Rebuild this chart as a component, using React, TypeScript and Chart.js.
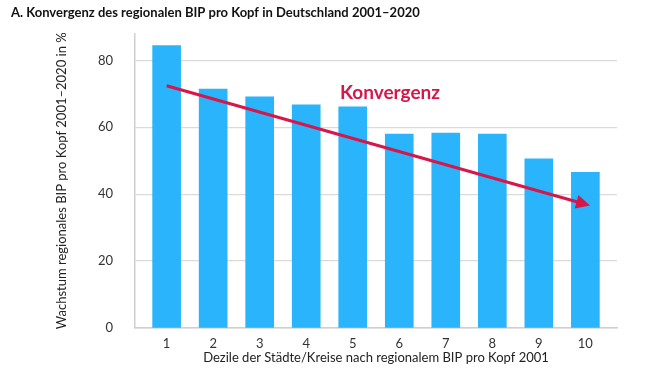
import React, { useEffect, useRef } from "react";
import { Chart, registerables } from "chart.js";

Chart.register(...registerables);

const titleText = "A. Konvergenz des regionalen BIP pro Kopf in Deutschland 2001–2020";
const xTitle = "Dezile der Städte/Kreise nach regionalem BIP pro Kopf 2001";
const yTitle = "Wachstum regionales BIP pro Kopf 2001–2020 in %";
const deciles = [1, 2, 3, 4, 5, 6, 7, 8, 9, 10];
const growth = [84.4, 71.4, 69.1, 66.7, 66.1, 58.0, 58.3, 58.0, 50.6, 46.5];
const yTicks = [0, 20, 40, 60, 80];
const arrowStart = [1, 72.4];
const arrowEnd = [10.1, 36.6];
const arrowLabel = "Konvergenz";
const arrowLabelPos = [5.8, 70.4];

const RED = "#d7174a";
const BLUE = "#29b4fb";
const FONT = "Lato";

const arrowPlugin = {
  id: "arrowPlugin",
  afterDatasetsDraw(chart: any) {
    const { ctx, scales } = chart;
    const xs = scales.x, ys = scales.y;
    const x0 = xs.getPixelForValue(arrowStart[0]);
    const y0 = ys.getPixelForValue(arrowStart[1]);
    const x1 = xs.getPixelForValue(arrowEnd[0]);
    const y1 = ys.getPixelForValue(arrowEnd[1]);
    const ang = Math.atan2(y1 - y0, x1 - x0);
    const headLen = 14;
    const headW = 7;
    const bx = x1 - headLen * Math.cos(ang);
    const by = y1 - headLen * Math.sin(ang);
    ctx.save();
    ctx.strokeStyle = RED;
    ctx.fillStyle = RED;
    ctx.lineWidth = 3;
    ctx.lineCap = "butt";
    ctx.beginPath();
    ctx.moveTo(x0, y0);
    ctx.lineTo(bx + 2 * Math.cos(ang), by + 2 * Math.sin(ang));
    ctx.stroke();
    ctx.beginPath();
    ctx.moveTo(x1, y1);
    ctx.lineTo(bx - headW * Math.sin(ang), by + headW * Math.cos(ang));
    ctx.lineTo(bx + headW * Math.sin(ang), by - headW * Math.cos(ang));
    ctx.closePath();
    ctx.fill();
    ctx.font = `bold 19px ${FONT}`;
    ctx.textAlign = "center";
    ctx.textBaseline = "middle";
    ctx.fillText(arrowLabel, xs.getPixelForValue(arrowLabelPos[0]), ys.getPixelForValue(arrowLabelPos[1]));
    ctx.restore();
  },
};

export default function App() {
  const ref = useRef<HTMLCanvasElement>(null);
  useEffect(() => {
    const chart = new Chart(ref.current as HTMLCanvasElement, {
      type: "bar",
      data: {
        datasets: [
          {
            data: deciles.map((d, i) => ({ x: d, y: growth[i] })),
            backgroundColor: BLUE,
            barThickness: 28,
          },
        ],
      },
      options: {
        animation: false,
        responsive: false,
        maintainAspectRatio: false,
        layout: { padding: { left: 11, right: 48, top: 5, bottom: 0 } },
        plugins: {
          legend: { display: false },
          tooltip: { enabled: false },
          title: {
            display: true,
            text: titleText,
            align: "start",
            color: "#111",
            font: { family: FONT, size: 13, weight: "bold" },
            padding: { top: 0, bottom: 13 },
          },
        },
        scales: {
          x: {
            type: "linear",
            offset: false,
            min: 0.32,
            max: 10.68,
            afterBuildTicks: (s: any) => {
              s.ticks = deciles.map((v) => ({ value: v }));
            },
            afterFit: (s: any) => {
              s.height = 52;
            },
            grid: { display: false, drawTicks: false, offset: false },
            border: { display: true, color: "#cfcfcf", width: 1.5 },
            ticks: {
              padding: 8,
              color: "#333",
              font: { family: FONT, size: 13 },
              callback: (v: any) => String(v),
            },
            title: {
              display: true,
              text: xTitle,
              color: "#222",
              font: { family: FONT, size: 13 },
              padding: { top: 0, bottom: 14 },
            },
          },
          y: {
            min: 0,
            max: 88,
            afterBuildTicks: (s: any) => {
              s.ticks = yTicks.map((v) => ({ value: v }));
            },
            afterFit: (s: any) => {
              s.width = 135 - 11;
            },
            grid: { color: "#dadada", lineWidth: 1.2, drawTicks: false },
            border: { display: true, color: "#cfcfcf", width: 1.5 },
            ticks: {
              padding: 22,
              color: "#333",
              font: { family: FONT, size: 13 },
            },
            title: {
              display: true,
              text: yTitle,
              color: "#222",
              font: { family: FONT, size: 13 },
              padding: { top: 43, bottom: 0 },
            },
          },
        },
      },
      plugins: [arrowPlugin],
    } as any);
    return () => chart.destroy();
  }, []);
  return (
    <div style={{ position: "fixed", left: 0, top: 0, width: 665, height: 380, background: "#fff" }}>
      <canvas ref={ref} width={665} height={380} style={{ width: 665, height: 380 }} />
    </div>
  );
}
